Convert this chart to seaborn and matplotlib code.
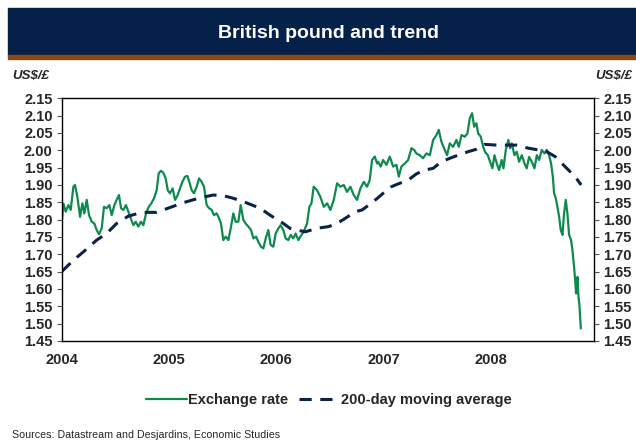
import matplotlib
matplotlib.use("Agg")
import matplotlib.pyplot as plt
from matplotlib.patches import Rectangle
import numpy as np
import pandas as pd
import seaborn as sns

# GBP/USD daily exchange rate (decimal year, US$ per £)
rate_year = [
    2004.000, 2004.016, 2004.037, 2004.062, 2004.084, 2004.109, 2004.124, 2004.146,
    2004.171, 2004.193, 2004.211, 2004.233, 2004.255, 2004.280, 2004.304, 2004.326,
    2004.348, 2004.373, 2004.394, 2004.419, 2004.444, 2004.466, 2004.491, 2004.512,
    2004.534, 2004.553, 2004.575, 2004.599, 2004.621, 2004.643, 2004.668, 2004.689,
    2004.714, 2004.739, 2004.761, 2004.786, 2004.811, 2004.835, 2004.860, 2004.885,
    2004.904, 2004.925, 2004.947, 2004.969, 2004.988, 2005.009, 2005.034, 2005.056,
    2005.081, 2005.102, 2005.124, 2005.149, 2005.171, 2005.189, 2005.211, 2005.233,
    2005.258, 2005.280, 2005.304, 2005.326, 2005.351, 2005.373, 2005.398, 2005.419,
    2005.444, 2005.466, 2005.484, 2005.506, 2005.528, 2005.553, 2005.575, 2005.599,
    2005.621, 2005.646, 2005.668, 2005.693, 2005.714, 2005.739, 2005.764, 2005.786,
    2005.811, 2005.832, 2005.857, 2005.879, 2005.901, 2005.925, 2005.947, 2005.972,
    2005.994, 2006.019, 2006.040, 2006.065, 2006.087, 2006.112, 2006.134, 2006.158,
    2006.180, 2006.205, 2006.224, 2006.255, 2006.286, 2006.308, 2006.327, 2006.348,
    2006.379, 2006.410, 2006.442, 2006.473, 2006.504, 2006.535, 2006.566, 2006.597,
    2006.628, 2006.659, 2006.690, 2006.721, 2006.752, 2006.783, 2006.814, 2006.845,
    2006.870, 2006.892, 2006.917, 2006.939, 2006.948, 2006.973, 2006.995, 2007.026,
    2007.057, 2007.088, 2007.119, 2007.141, 2007.165, 2007.197, 2007.228, 2007.259,
    2007.284, 2007.305, 2007.336, 2007.367, 2007.398, 2007.430, 2007.461, 2007.492,
    2007.513, 2007.538, 2007.569, 2007.591, 2007.616, 2007.647, 2007.678, 2007.700,
    2007.725, 2007.756, 2007.781, 2007.802, 2007.824, 2007.843, 2007.864, 2007.880,
    2007.905, 2007.927, 2007.945, 2007.970, 2007.992, 2008.013, 2008.032, 2008.054,
    2008.075, 2008.100, 2008.116, 2008.138, 2008.162, 2008.178, 2008.194, 2008.218,
    2008.240, 2008.262, 2008.287, 2008.312, 2008.333, 2008.355, 2008.380, 2008.405,
    2008.427, 2008.448, 2008.473, 2008.498, 2008.520, 2008.541, 2008.560, 2008.576,
    2008.588, 2008.604, 2008.619, 2008.635, 2008.650, 2008.666, 2008.681, 2008.697,
    2008.712, 2008.728, 2008.746, 2008.759, 2008.774, 2008.784, 2008.793, 2008.806,
    2008.815, 2008.824, 2008.837,
]
rate_value = [
    1.789, 1.847, 1.823, 1.842, 1.828, 1.895, 1.900, 1.866,
    1.808, 1.847, 1.818, 1.857, 1.813, 1.794, 1.789, 1.770,
    1.758, 1.775, 1.837, 1.833, 1.842, 1.813, 1.842, 1.857,
    1.871, 1.833, 1.828, 1.842, 1.823, 1.804, 1.784, 1.794,
    1.780, 1.794, 1.784, 1.818, 1.837, 1.847, 1.861, 1.885,
    1.934, 1.941, 1.935, 1.919, 1.885, 1.876, 1.890, 1.857,
    1.871, 1.890, 1.909, 1.924, 1.926, 1.909, 1.885, 1.876,
    1.895, 1.919, 1.909, 1.895, 1.842, 1.833, 1.828, 1.813,
    1.818, 1.804, 1.789, 1.741, 1.751, 1.741, 1.775, 1.818,
    1.794, 1.794, 1.842, 1.799, 1.789, 1.780, 1.770, 1.746,
    1.751, 1.736, 1.722, 1.717, 1.746, 1.770, 1.727, 1.722,
    1.760, 1.775, 1.784, 1.770, 1.746, 1.741, 1.756, 1.746,
    1.760, 1.741, 1.751, 1.765, 1.789, 1.837, 1.847, 1.895,
    1.885, 1.866, 1.837, 1.847, 1.828, 1.857, 1.905, 1.895,
    1.900, 1.880, 1.895, 1.871, 1.857, 1.890, 1.909, 1.895,
    1.914, 1.972, 1.982, 1.962, 1.967, 1.953, 1.972, 1.958,
    1.982, 1.953, 1.958, 1.924, 1.953, 1.962, 1.972, 2.006,
    2.001, 1.991, 1.986, 1.977, 1.991, 1.986, 2.030, 2.044,
    2.059, 2.025, 2.001, 1.986, 2.020, 2.010, 2.030, 2.010,
    2.044, 2.039, 2.049, 2.092, 2.107, 2.068, 2.078, 2.049,
    2.039, 2.010, 1.995, 1.986, 1.967, 1.948, 1.986, 1.962,
    1.943, 1.972, 1.948, 2.001, 2.030, 2.006, 2.020, 1.986,
    1.996, 1.967, 1.986, 1.962, 1.948, 1.981, 1.967, 1.948,
    1.986, 1.972, 2.001, 1.991, 2.001, 1.986, 1.962, 1.924,
    1.876, 1.861, 1.837, 1.808, 1.770, 1.756, 1.818, 1.857,
    1.818, 1.756, 1.741, 1.712, 1.664, 1.626, 1.587, 1.635,
    1.578, 1.554, 1.486,
]

# 200-day moving average (decimal year, US$ per £)
ma_year = [
    2004.000, 2004.109, 2004.202, 2004.326, 2004.419, 2004.512, 2004.621, 2004.745,
    2004.885, 2005.009, 2005.134, 2005.289, 2005.413, 2005.506, 2005.584, 2005.693,
    2005.848, 2005.941, 2006.065, 2006.127, 2006.220, 2006.271, 2006.379, 2006.488,
    2006.566, 2006.643, 2006.737, 2006.799, 2006.861, 2006.939, 2007.010, 2007.072,
    2007.134, 2007.228, 2007.305, 2007.383, 2007.461, 2007.538, 2007.616, 2007.694,
    2007.787, 2007.864, 2007.942, 2008.054, 2008.240, 2008.349, 2008.442, 2008.520,
    2008.597, 2008.706, 2008.784, 2008.840,
]
ma_value = [
    1.650, 1.683, 1.707, 1.741, 1.760, 1.789, 1.810, 1.821,
    1.821, 1.835, 1.849, 1.863, 1.871, 1.869, 1.863, 1.852,
    1.833, 1.813, 1.789, 1.775, 1.768, 1.765, 1.775, 1.780,
    1.789, 1.804, 1.823, 1.828, 1.842, 1.861, 1.880, 1.895,
    1.903, 1.914, 1.932, 1.943, 1.948, 1.967, 1.977, 1.986,
    1.996, 2.003, 2.017, 2.015, 2.015, 2.006, 2.001, 1.996,
    1.982, 1.948, 1.924, 1.900,
]

year_ticks = [2004, 2005, 2006, 2007, 2008]
value_ticks = [1.45, 1.50, 1.55, 1.60, 1.65, 1.70, 1.75, 1.80, 1.85, 1.90,
               1.95, 2.00, 2.05, 2.10, 2.15]

GREEN = "#0e8a4f"
NAVY = "#0b2249"
BANNER = "#062149"
STRIPE = "#8b4a12"

sns.set_style("white")
plt.rcParams["font.family"] = ["Liberation Sans", "DejaVu Sans"]

rate_df = pd.DataFrame({"year": rate_year, "value": rate_value})
ma_df = pd.DataFrame({"year": ma_year, "value": ma_value})

fig = plt.figure(figsize=(6.36, 4.41), dpi=100)
ax = fig.add_axes([0.097, 0.2268, 0.837, 0.5503])

sns.lineplot(data=rate_df, x="year", y="value", ax=ax, color=GREEN,
             linewidth=1.6, label="Exchange rate")
sns.lineplot(data=ma_df, x="year", y="value", ax=ax, color=NAVY,
             linewidth=2.2, label="200-day moving average")
ax.lines[1].set_dashes((4.0, 2.8))

ax.set_xlim(2004.0, 2008.96)
ax.set_ylim(1.45, 2.15)
ax.set_xticks(year_ticks)
ax.set_xticklabels([str(y) for y in year_ticks])
ax.set_yticks(value_ticks)
ax.set_yticklabels([f"{v:.2f}" for v in value_ticks])
ax.set_xlabel("")
ax.set_ylabel("")

for s in ax.spines.values():
    s.set_visible(True)
    s.set_color("black")
    s.set_linewidth(1.0)

TICK_FS = 10.5
ax.tick_params(axis="y", which="both", left=True, right=True, labelleft=True,
               labelright=True, direction="out", length=3.5, width=0.8,
               color="#555555", pad=3, labelsize=TICK_FS)
ax.tick_params(axis="x", length=0, pad=9, labelsize=TICK_FS)
for tk in ax.xaxis.get_major_ticks():
    tk.label1.set_fontweight("bold")
for tk in ax.yaxis.get_major_ticks():
    tk.label1.set_fontweight("bold")
    tk.label2.set_fontweight("bold")
    tk.label2.set_fontsize(TICK_FS)

ax.get_legend().remove()
handles, labels = ax.get_legend_handles_labels()
fig.legend(handles, labels, loc="center", ncol=2, frameon=False,
           bbox_to_anchor=(329 / 636, 1 - 400 / 441),
           handlelength=2.8, handletextpad=0.1, columnspacing=0.7,
           prop={"weight": "bold", "size": 10.5})

# Title banner
W, H = 636, 441
fig.add_artist(Rectangle((8 / W, 1 - 55 / H), 1 - 8 / W, 47 / H,
                         transform=fig.transFigure, color=BANNER, zorder=0))
fig.add_artist(Rectangle((8 / W, 1 - 59 / H), 1 - 8 / W, 4 / H,
                         transform=fig.transFigure, color=STRIPE, zorder=0))
fig.text(328 / W, 1 - 33 / H, "British pound and trend", color="white",
         fontsize=14, fontweight="bold", ha="center", va="center")

fig.text(12 / W, 1 - 76 / H, "US$/£", fontsize=9.5, fontweight="bold",
         fontstyle="italic", ha="left", va="center")
fig.text(632 / W, 1 - 76 / H, "US$/£", fontsize=9.5, fontweight="bold",
         fontstyle="italic", ha="right", va="center")

fig.text(12 / W, 1 - 435 / H, "Sources: Datastream and Desjardins, Economic Studies",
         fontsize=7.7, ha="left", va="center")

fig.savefig("out.png", dpi=100)
